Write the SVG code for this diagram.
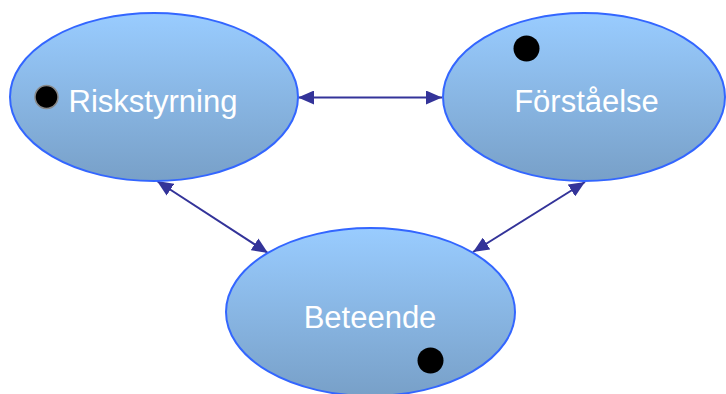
<svg xmlns="http://www.w3.org/2000/svg" width="726" height="394" viewBox="0 0 726 394">
  <defs>
    <linearGradient id="bubbleFill" x1="0" y1="0" x2="0" y2="1">
      <stop offset="0" stop-color="#99CCFF"/>
      <stop offset="1" stop-color="#78A0C8"/>
    </linearGradient>
    <marker id="head" viewBox="0 0 16 14" refX="16" refY="7" markerWidth="16" markerHeight="14" markerUnits="userSpaceOnUse" orient="auto-start-reverse">
      <path d="M0,0 L16,7 L0,14 z" fill="#333399"/>
    </marker>
  </defs>
  <style>
    .bubble { fill: url(#bubbleFill); stroke: #3366FF; stroke-width: 2; }
    .label { font-family: "Liberation Sans", Arial, sans-serif; font-size: 31px; fill: #FFFFFF; text-anchor: middle; }
    .dot { fill: #000000; }
    .link { stroke: #333399; stroke-width: 2; fill: none; marker-start: url(#head); marker-end: url(#head); }
  </style>

  <g id="connectors">
    <line class="link" x1="298" y1="97.5" x2="442" y2="97.5"/>
    <line class="link" x1="157" y1="181" x2="268" y2="253"/>
    <line class="link" x1="585" y1="182" x2="473" y2="252"/>
  </g>

  <g id="riskstyrning">
    <ellipse class="bubble" cx="154" cy="97" rx="144" ry="84"/>
    <circle class="dot" cx="46.5" cy="97" r="11.5" stroke="#888888" stroke-width="1.5"/>
    <text class="label" x="153" y="112">Riskstyrning</text>
  </g>

  <g id="forstaelse">
    <ellipse class="bubble" cx="584" cy="97" rx="141" ry="84"/>
    <circle class="dot" cx="526.5" cy="48.5" r="13"/>
    <text class="label" x="586.5" y="112">Förståelse</text>
  </g>

  <g id="beteende">
    <ellipse class="bubble" cx="370.5" cy="312" rx="144.5" ry="84"/>
    <circle class="dot" cx="430.5" cy="360.5" r="13"/>
    <text class="label" x="370" y="328">Beteende</text>
  </g>
</svg>
